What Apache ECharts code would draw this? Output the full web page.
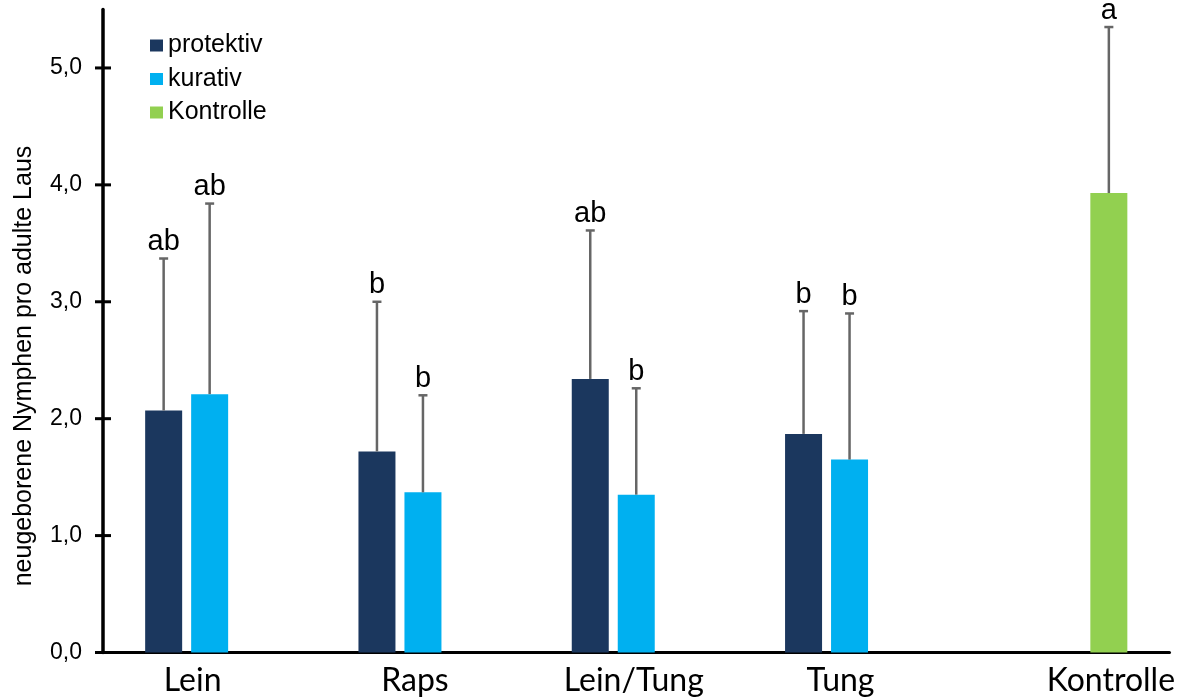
<!DOCTYPE html>
<html>
<head>
<meta charset="utf-8">
<script src="https://cdn.jsdelivr.net/npm/echarts@6/dist/echarts.min.js"></script>
<style>
  html, body { margin: 0; padding: 0; background: #ffffff; }
  #chart { width: 1182px; height: 699px; }
</style>
</head>
<body>
<div id="chart"></div>
<script>
// Treatments on the x axis
const categories = ['Lein', 'Raps', 'Lein/Tung', 'Tung', 'Kontrolle'];

// Mean number of newborn nymphs per adult louse, upper error (SD) and significance letters
const protektivMean = [2.07, 1.72, 2.34, 1.87, null];
const protektivErr = [1.30, 1.28, 1.27, 1.05, null];
const protektivLetters = ['ab', 'b', 'ab', 'b', ''];

const kurativMean = [2.21, 1.37, 1.35, 1.65, null];
const kurativErr = [1.63, 0.83, 0.91, 1.25, null];
const kurativLetters = ['ab', 'b', 'b', 'b', ''];

const kontrolleMean = [null, null, null, null, 3.93];
const kontrolleErr = [null, null, null, null, 1.42];
const kontrolleLetters = ['', '', '', '', 'a'];

const yTicks = [0, 1, 2, 3, 4, 5];

const seriesNames = ['protektiv', 'kurativ', 'Kontrolle'];
const colors = ['#1B375E', '#00B0F0', '#92D050'];

const ARIAL = 'Arial, "Liberation Sans", sans-serif';
const BAR_W = 37;
const BAR_GAP = 9;
const TICK_HALF = 8;

const chart = echarts.init(document.getElementById('chart'), null, { renderer: 'canvas' });

function barSeries(name, means, color) {
  return {
    name: name,
    type: 'bar',
    barWidth: BAR_W,
    barGap: (BAR_GAP / BAR_W * 100).toFixed(1) + '%',
    itemStyle: { color: color },
    data: means.map(v => (v == null ? '-' : v)),
    z: 2
  };
}

// Upper error bar with cap and significance letter above each bar
function errorSeries(slot, means, errs, letters) {
  const data = [];
  means.forEach((m, i) => {
    if (m != null) data.push([i, m, m + errs[i], i]);
  });
  return {
    type: 'custom',
    silent: true,
    z: 5,
    data: data,
    renderItem: function (params, api) {
      const idx = api.value(3);
      const base = api.coord([api.value(0), api.value(1)]);
      const top = api.coord([api.value(0), api.value(2)]);
      const x = base[0] + slot * (BAR_W + BAR_GAP);
      const stroke = { stroke: '#666666', lineWidth: 2.5 };
      return {
        type: 'group',
        children: [
          { type: 'line', shape: { x1: x, y1: base[1], x2: x, y2: top[1] }, style: stroke },
          { type: 'line', shape: { x1: x - 4.5, y1: top[1], x2: x + 4.5, y2: top[1] }, style: stroke },
          {
            type: 'text',
            x: x,
            y: top[1] - 2,
            style: {
              text: letters[idx],
              fontSize: 29,
              fontFamily: ARIAL,
              fill: '#000000',
              align: 'center',
              verticalAlign: 'bottom'
            }
          }
        ]
      };
    }
  };
}

const labelFont = { fontFamily: 'Lato, "Open Sans", sans-serif', fontSize: 32, color: '#000000' };

const option = {
  backgroundColor: '#ffffff',
  animation: false,
  grid: { left: 103, right: 12.5, top: 9.5, bottom: 46.5 },
  legend: {
    data: seriesNames,
    orient: 'vertical',
    left: 150,
    top: 33,
    padding: 0,
    itemWidth: 13,
    itemHeight: 12,
    itemGap: 8.5,
    icon: 'rect',
    textStyle: { fontFamily: ARIAL, fontSize: 25, lineHeight: 25, color: '#000000' }
  },
  xAxis: {
    type: 'category',
    data: [
      { value: categories[0], textStyle: { padding: [0, 34, 0, 0] } },
      { value: categories[1], textStyle: { padding: [0, 16, 0, 0] } },
      { value: categories[2], textStyle: { padding: [0, 5, 0, 0] } },
      { value: categories[3], textStyle: { padding: [0, 18, 0, 0] } },
      { value: categories[4], textStyle: { padding: [0, 0, 0, 96] } }
    ],
    axisLine: { show: true, lineStyle: { color: '#000000', width: 3 } },
    axisTick: { show: false },
    axisLabel: Object.assign({ margin: 12, interval: 0 }, labelFont),
    splitLine: { show: false }
  },
  yAxis: {
    type: 'value',
    position: 'left',
    min: 0,
    max: 5.5,
    interval: 1,
    axisLine: { show: true, lineStyle: { color: '#000000', width: 3.5 } },
    axisTick: { show: false },
    axisLabel: {
      customValues: yTicks,
      margin: 21,
      fontFamily: ARIAL,
      fontSize: 23,
      color: '#000000',
      formatter: v => v.toFixed(1).replace('.', ',')
    },
    splitLine: { show: false }
  },
  series: [
    barSeries(seriesNames[0], protektivMean, colors[0]),
    barSeries(seriesNames[1], kurativMean, colors[1]),
    barSeries(seriesNames[2], kontrolleMean, colors[2]),
    errorSeries(-1, protektivMean, protektivErr, protektivLetters),
    errorSeries(0, kurativMean, kurativErr, kurativLetters),
    errorSeries(1, kontrolleMean, kontrolleErr, kontrolleLetters)
  ]
};

chart.setOption(option);

// Crossing tick marks on the value axis and the axis title, placed from the axis scales
const c0 = chart.convertToPixel({ xAxisIndex: 0 }, 0);
const c1 = chart.convertToPixel({ xAxisIndex: 0 }, 1);
const axisX = c0 - (c1 - c0) / 2;
const graphics = yTicks.map(v => {
  const y = chart.convertToPixel({ yAxisIndex: 0 }, v);
  return {
    type: 'line',
    z: 100,
    shape: { x1: axisX - TICK_HALF, y1: y, x2: axisX + TICK_HALF, y2: y },
    style: { stroke: '#000000', lineWidth: 3 }
  };
});
graphics.push({
  type: 'text',
  x: 24,
  y: 366,
  rotation: Math.PI / 2,
  style: {
    text: 'neugeborene Nymphen pro adulte Laus',
    fontFamily: ARIAL,
    fontSize: 25,
    fill: '#000000',
    align: 'center',
    verticalAlign: 'middle'
  }
});
chart.setOption({ graphic: graphics });
</script>
</body>
</html>
